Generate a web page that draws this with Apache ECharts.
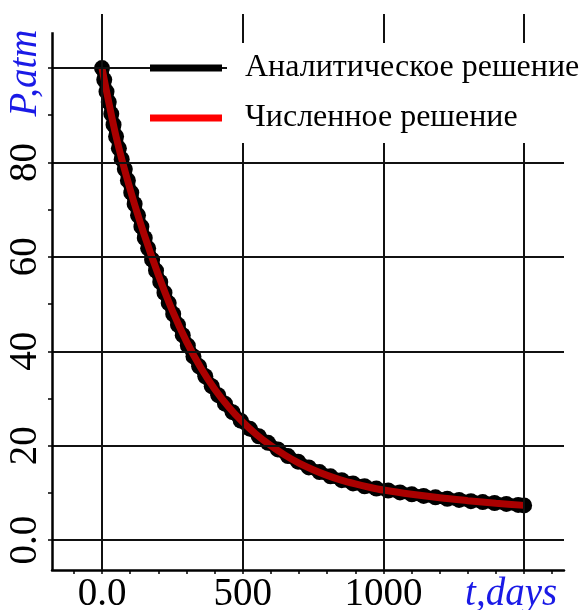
<!DOCTYPE html>
<html>
<head>
<meta charset="utf-8">
<script src="https://cdn.jsdelivr.net/npm/echarts@6/dist/echarts.min.js"></script>
<style>
  html, body { margin: 0; padding: 0; background: #fff; }
  #chart { width: 581px; height: 610px; }
</style>
</head>
<body>
<div id="chart"></div>
<script>
// Analytical solution: sampled points (t in days, P in atm)
const analyticT = [0, 8, 16, 24, 33, 41, 50, 60, 70, 81, 92, 104, 116, 128, 140, 152, 164, 178, 192,
  207, 222, 237, 253, 270, 287, 305, 325, 345, 367, 390, 413, 437, 464, 493, 525, 557, 590,
  625, 661, 697, 735, 773, 812, 852, 892, 933, 975, 1017, 1059, 1101, 1143, 1185, 1227,
  1269, 1311, 1353, 1395, 1437, 1479, 1500];
const analyticP = [100, 97.5, 95, 92.8, 90.3, 88, 85.5, 83, 80.7, 78.6, 76.2, 73.6, 71.2, 68.8, 66.4, 64, 61.8, 59.4, 57.1,
  54.7, 52.4, 50.2, 47.9, 45.6, 43.4, 41.2, 38.9, 36.8, 34.7, 32.6, 30.7, 28.9, 27.1, 25.3, 23.6, 22.0, 20.6,
  19.2, 17.8, 16.6, 15.4, 14.4, 13.5, 12.7, 12.0, 11.4, 10.9, 10.5, 10.1, 9.7, 9.35, 9.05, 8.75,
  8.5, 8.25, 8.05, 7.85, 7.65, 7.45, 7.35];

// Numerical solution
const numericT = [0, 50, 100, 150, 200, 250, 300, 350, 400, 450, 500, 550, 600, 650, 700, 750, 800,
  850, 900, 950, 1000, 1100, 1200, 1300, 1400, 1500];
const numericP = [100, 85.5, 74.3, 64.7, 56.2, 48.6, 42.1, 36.6, 32.0, 28.2, 25.0, 22.3, 20.0, 18.0, 16.3, 14.9, 13.7,
  12.7, 11.9, 11.2, 10.6, 9.7, 8.95, 8.35, 7.8, 7.35];

const seriesNames = ['Аналитическое решение', 'Численное решение'];

// Axis ticks and labels
const xGridValues = [0, 500, 1000, 1500];
const xLabelTexts = ['0.0', '500', '1000', 't,days'];
const xMinorTicks = [-100, 0, 100, 200, 300, 400, 500, 600, 700, 800, 900, 1000, 1100, 1200, 1300, 1400, 1500, 1600];
const yGridValues = [0, 20, 40, 60, 80, 100];
const yLabelTexts = ['0.0', '20', '40', '60', '80', 'P,atm'];
const yMinorTicks = [0, 10, 20, 30, 40, 50, 60, 70, 80, 90, 100];

const X_MIN = -177.7, X_MAX = 1641.8;
const Y_MIN = -6.34, Y_MAX = 111.45, Y_AXIS_TOP = 107.6;

const serif = "'Liberation Serif', 'Times New Roman', serif";
const blue = '#1a1ae6';

const zip = (xs, ys) => xs.map((x, i) => [x, ys[i]]);

const chart = echarts.init(document.getElementById('chart'), null, { renderer: 'canvas' });

chart.setOption({
  backgroundColor: '#fff',
  animation: false,
  grid: { left: 52, right: 17, top: 14, bottom: 40, containLabel: false, outerBoundsMode: 'none' },
  legend: {
    left: 145,
    top: 38,
    orient: 'vertical',
    itemWidth: 72,
    itemHeight: 7,
    itemGap: 0,
    icon: 'rect',
    z: 10,
    selectedMode: false,
    data: [
      { name: seriesNames[0], itemStyle: { color: '#000' } },
      { name: seriesNames[1], itemStyle: { color: '#ff0000' } }
    ],
    textStyle: {
      fontFamily: serif,
      fontSize: 32,
      color: '#000',
      lineHeight: 50,
      width: 340,
      backgroundColor: '#fff',
      padding: [0, 0, 0, 18]
    }
  },
  xAxis: {
    type: 'value',
    min: X_MIN,
    max: X_MAX,
    axisLine: { show: true, onZero: false, lineStyle: { color: '#000', width: 2.5 } },
    splitLine: { show: false },
    axisTick: { show: true, customValues: xMinorTicks, length: 4, inside: false, lineStyle: { color: '#000', width: 1.5 } },
    axisLabel: {
      customValues: xGridValues,
      margin: 5,
      fontFamily: serif,
      fontSize: 39,
      color: '#000',
      formatter: v => {
        const i = xGridValues.indexOf(Math.round(v));
        if (i < 0) return '';
        return i === xGridValues.length - 1 ? '{name|' + xLabelTexts[i] + '}' : xLabelTexts[i];
      },
      rich: {
        name: { fontFamily: serif, fontSize: 39, fontStyle: 'italic', color: blue, padding: [0, 26, 0, 0] }
      }
    }
  },
  yAxis: {
    type: 'value',
    min: Y_MIN,
    max: Y_MAX,
    axisLine: { show: false, onZero: false },
    splitLine: { show: false },
    axisTick: { show: true, customValues: yMinorTicks, length: 4, inside: false, lineStyle: { color: '#000', width: 1.5 } },
    axisLabel: {
      customValues: yGridValues,
      rotate: 90,
      margin: 7,
      fontFamily: serif,
      fontSize: 39,
      color: '#000',
      formatter: v => {
        const i = yGridValues.indexOf(Math.round(v));
        if (i < 0) return '';
        return i === yGridValues.length - 1 ? '{name|' + yLabelTexts[i] + '}' : yLabelTexts[i];
      },
      rich: {
        name: { fontFamily: serif, fontSize: 39, fontStyle: 'italic', color: blue, padding: [0, 10, 0, 0] }
      }
    }
  },
  series: [
    {
      // grid lines and the vertical axis line
      type: 'line',
      name: '__grid',
      data: [],
      z: 1,
      silent: true,
      markLine: {
        silent: true,
        symbol: 'none',
        animation: false,
        label: { show: false },
        lineStyle: { color: '#111', width: 2, type: 'solid' },
        data: [
          ...xGridValues.map(v => ({ xAxis: v })),
          ...yGridValues.map(v => ({ yAxis: v })),
          [
            { coord: [X_MIN, Y_AXIS_TOP], lineStyle: { color: '#000', width: 2.5 } },
            { coord: [X_MIN, Y_MIN] }
          ]
        ]
      }
    },
    {
      name: seriesNames[0],
      type: 'line',
      z: 3,
      data: zip(analyticT, analyticP),
      symbol: 'circle',
      symbolSize: 16,
      showAllSymbol: true,
      itemStyle: { color: '#000' },
      lineStyle: { color: '#000', width: 12 }
    },
    {
      name: seriesNames[1],
      type: 'line',
      z: 4,
      data: zip(numericT, numericP),
      symbol: 'none',
      smooth: 0.3,
      itemStyle: { color: '#ff0000' },
      lineStyle: { color: '#aa0000', width: 7 }
    }
  ]
});
</script>
</body>
</html>
